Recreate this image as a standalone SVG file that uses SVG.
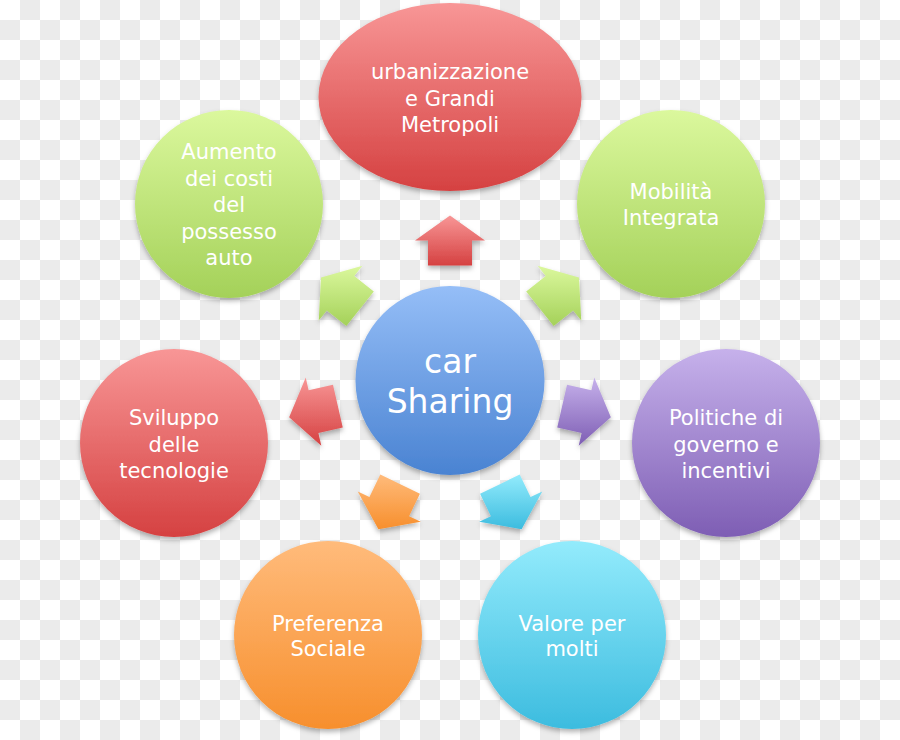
<svg xmlns="http://www.w3.org/2000/svg" width="900" height="740" viewBox="0 0 900 740">
  <defs>
    <pattern id="checker" x="0" y="0" width="40" height="40" patternUnits="userSpaceOnUse">
      <rect width="40" height="40" fill="#ffffff"/>
      <rect x="20" y="0" width="20" height="20" fill="#ebebeb"/>
      <rect x="0" y="20" width="20" height="20" fill="#ebebeb"/>
    </pattern>
    <linearGradient id="gRed" x1="0" y1="0" x2="0" y2="1">
      <stop offset="0" stop-color="#f89696"/>
      <stop offset="1" stop-color="#d54141"/>
    </linearGradient>
    <linearGradient id="gGreen" x1="0" y1="0" x2="0" y2="1">
      <stop offset="0" stop-color="#dbf89d"/>
      <stop offset="1" stop-color="#a4d159"/>
    </linearGradient>
    <linearGradient id="gPurple" x1="0" y1="0" x2="0" y2="1">
      <stop offset="0" stop-color="#c6b1eb"/>
      <stop offset="1" stop-color="#7e5eb4"/>
    </linearGradient>
    <linearGradient id="gOrange" x1="0" y1="0" x2="0" y2="1">
      <stop offset="0" stop-color="#ffbb7b"/>
      <stop offset="1" stop-color="#f78f2d"/>
    </linearGradient>
    <linearGradient id="gCyan" x1="0" y1="0" x2="0" y2="1">
      <stop offset="0" stop-color="#93ebfc"/>
      <stop offset="1" stop-color="#3cbcdf"/>
    </linearGradient>
    <linearGradient id="gBlue" x1="0" y1="0" x2="0" y2="1">
      <stop offset="0" stop-color="#95bef7"/>
      <stop offset="1" stop-color="#4a83d2"/>
    </linearGradient>
    <filter id="shadow" x="-20%" y="-20%" width="140%" height="150%">
      <feDropShadow dx="0" dy="3" stdDeviation="2.5" flood-color="#000000" flood-opacity="0.3"/>
    </filter>
  </defs>
  <style>
    .lbl { font-family: "DejaVu Sans", "Liberation Sans", sans-serif; font-size: 21px; fill: #ffffff; text-anchor: middle; }
    .big { font-size: 33px; }
    .shape { filter: url(#shadow); }
  </style>

  <rect width="900" height="740" fill="url(#checker)"/>

  <g id="connectors" class="shape">
    <polygon fill="url(#gRed)" points="450,215.5 485,240.5 472,240.5 472,265.5 428,265.5 428,240.5 415,240.5"/>
    <polygon fill="url(#gGreen)" points="579.0,277.6 581.28,320.57 573.18,310.41 553.63,326.0 526.19,291.6 545.74,276.01 537.64,265.85"/>
    <polygon fill="url(#gPurple)" points="610.86,417.22 578.7,445.77 581.59,433.1 557.22,427.54 567.02,384.64 591.39,390.2 594.28,377.53"/>
    <polygon fill="url(#gCyan)" points="521.59,529.16 479.21,521.83 490.92,516.19 480.08,493.66 519.72,474.56 530.56,497.09 542.27,491.45"/>
    <polygon fill="url(#gOrange)" points="378.41,529.16 420.79,521.83 409.08,516.19 419.92,493.66 380.28,474.56 369.44,497.09 357.73,491.45"/>
    <polygon fill="url(#gRed)" points="289.14,417.22 321.3,445.77 318.41,433.1 342.78,427.54 332.98,384.64 308.61,390.2 305.72,377.53"/>
    <polygon fill="url(#gGreen)" points="321.0,277.6 318.72,320.57 326.82,310.41 346.37,326.0 373.81,291.6 354.26,276.01 362.36,265.85"/>
  </g>

  <g id="node-center">
    <circle class="shape" cx="450" cy="380.5" r="94.5" fill="url(#gBlue)"/>
    <text class="lbl big" x="450" y="373">car</text>
    <text class="lbl big" x="450" y="413">Sharing</text>
  </g>

  <g id="node-urbanizzazione">
    <ellipse class="shape" cx="450" cy="97" rx="131.5" ry="94" fill="url(#gRed)"/>
    <text class="lbl" x="450" y="79">urbanizzazione</text>
    <text class="lbl" x="450" y="105.5">e Grandi</text>
    <text class="lbl" x="450" y="132">Metropoli</text>
  </g>

  <g id="node-mobilita">
    <circle class="shape" cx="671" cy="204" r="94" fill="url(#gGreen)"/>
    <text class="lbl" x="671" y="199">Mobilità</text>
    <text class="lbl" x="671" y="224.5">Integrata</text>
  </g>

  <g id="node-politiche">
    <circle class="shape" cx="726" cy="443" r="94" fill="url(#gPurple)"/>
    <text class="lbl" x="726" y="425">Politiche di</text>
    <text class="lbl" x="726" y="451.5">governo e</text>
    <text class="lbl" x="726" y="478">incentivi</text>
  </g>

  <g id="node-valore">
    <circle class="shape" cx="572" cy="635" r="94" fill="url(#gCyan)"/>
    <text class="lbl" x="572" y="630.5">Valore per</text>
    <text class="lbl" x="572" y="656">molti</text>
  </g>

  <g id="node-preferenza">
    <circle class="shape" cx="328" cy="635" r="94" fill="url(#gOrange)"/>
    <text class="lbl" x="328" y="630.5">Preferenza</text>
    <text class="lbl" x="328" y="656">Sociale</text>
  </g>

  <g id="node-sviluppo">
    <circle class="shape" cx="174" cy="443" r="94" fill="url(#gRed)"/>
    <text class="lbl" x="174" y="425">Sviluppo</text>
    <text class="lbl" x="174" y="451.5">delle</text>
    <text class="lbl" x="174" y="478">tecnologie</text>
  </g>

  <g id="node-aumento">
    <circle class="shape" cx="229" cy="204" r="94" fill="url(#gGreen)"/>
    <text class="lbl" x="229" y="159">Aumento</text>
    <text class="lbl" x="229" y="185.5">dei costi</text>
    <text class="lbl" x="229" y="212">del</text>
    <text class="lbl" x="229" y="238.5">possesso</text>
    <text class="lbl" x="229" y="265">auto</text>
  </g>
</svg>
